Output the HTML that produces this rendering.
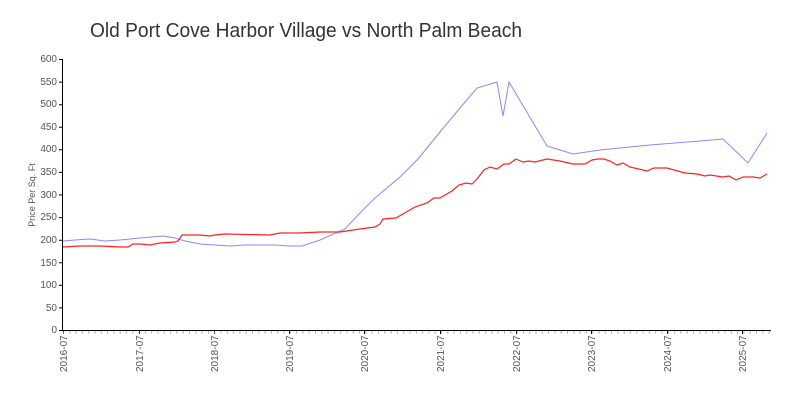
<!DOCTYPE html>
<html><head><meta charset="utf-8"><style>
body{margin:0;background:#fff;}
svg text{font-family:"Liberation Sans",sans-serif;}
</style></head><body>
<svg width="800" height="400" viewBox="0 0 800 400" xmlns="http://www.w3.org/2000/svg">
<rect width="800" height="400" fill="#fff"/>
<text x="90" y="37" font-size="20" fill="#333" textLength="432" lengthAdjust="spacingAndGlyphs">Old Port Cove Harbor Village vs North Palm Beach</text>
<text transform="translate(35,195) rotate(-90)" text-anchor="middle" font-size="9" fill="#555">Price Per Sq. Ft</text>
<g font-size="10" fill="#555" text-anchor="end">
<text x="57" y="333">0</text><text x="57" y="311">50</text><text x="57" y="288">100</text><text x="57" y="266">150</text><text x="57" y="243">200</text><text x="57" y="220">250</text><text x="57" y="198">300</text><text x="57" y="175">350</text><text x="57" y="152">400</text><text x="57" y="130">450</text><text x="57" y="107">500</text><text x="57" y="85">550</text><text x="57" y="62">600</text>
</g>
<g stroke="#000" stroke-width="1">
<line x1="62.5" y1="59" x2="62.5" y2="330"/>
<line x1="62" y1="330.5" x2="771" y2="330.5"/>
<path d="M59 330.5h4M59 307.9h4M59 285.3h4M59 262.8h4M59 240.2h4M59 217.6h4M59 195h4M59 172.4h4M59 149.8h4M59 127.3h4M59 104.7h4M59 82.1h4M59 59.5h4"/>
<path d="M63.5 330v4M139.5 330v4M214.5 330v4M289.5 330v4M364.5 330v4M440.5 330v4M516.5 330v4M591.5 330v4M667.5 330v4M742.5 330v4"/>
</g>
<line x1="63" y1="332.5" x2="771" y2="332.5" stroke="#999" stroke-width="2" stroke-dasharray="1 5.3"/>
<g fill="#555" font-size="10">
<text transform="translate(67,372) rotate(-90)">2016-07</text>
<text transform="translate(143,372) rotate(-90)">2017-07</text>
<text transform="translate(218,372) rotate(-90)">2018-07</text>
<text transform="translate(293,372) rotate(-90)">2019-07</text>
<text transform="translate(368,372) rotate(-90)">2020-07</text>
<text transform="translate(444,372) rotate(-90)">2021-07</text>
<text transform="translate(520,372) rotate(-90)">2022-07</text>
<text transform="translate(595,372) rotate(-90)">2023-07</text>
<text transform="translate(671,372) rotate(-90)">2024-07</text>
<text transform="translate(746,372) rotate(-90)">2025-07</text>
</g>
<polyline fill="none" stroke="#8888ff" stroke-width="1" points="63,241 75,240 90,239 105,241 120,240 140,238 163,236 175,238 185,241 200,244 215,245 230,246 245,245 260,245 275,245 290,246 302,246 320,240 345,229 360,213 375,198 400,177 418,159 440,132 460,108 477,88 497,82 503,116 509,82 547,146 573,154 600,150 620,148 650,145 700,141 723,139 748,163 767,133"/>
<polyline fill="none" stroke="#ff2020" stroke-width="1.2" points="63,247 80,246 100,246 120,247 128,247 133,244 140,244 150,245 160,243 175,242 178,241 182,235 200,235 210,236 215,235 225,234 270,235 280,233 300,233 320,232 340,232 360,229 375,227 380,224 383,219 396,218 415,207 427,203 434,198 440,198 452,191 459,185 466,183 472,184 477,179 484,170 490,167 497,169 504,164 509,164 516,159 523,162 529,161 535,162 547,159 560,161 573,164 585,164 592,160 598,159 604,159 610,161 617,165 623,163 630,167 647,171 654,168 667,168 685,173 697,174 705,176 710,175 723,177 729,176 736,180 743,177 753,177 760,178 767,174"/>
</svg>
</body></html>
